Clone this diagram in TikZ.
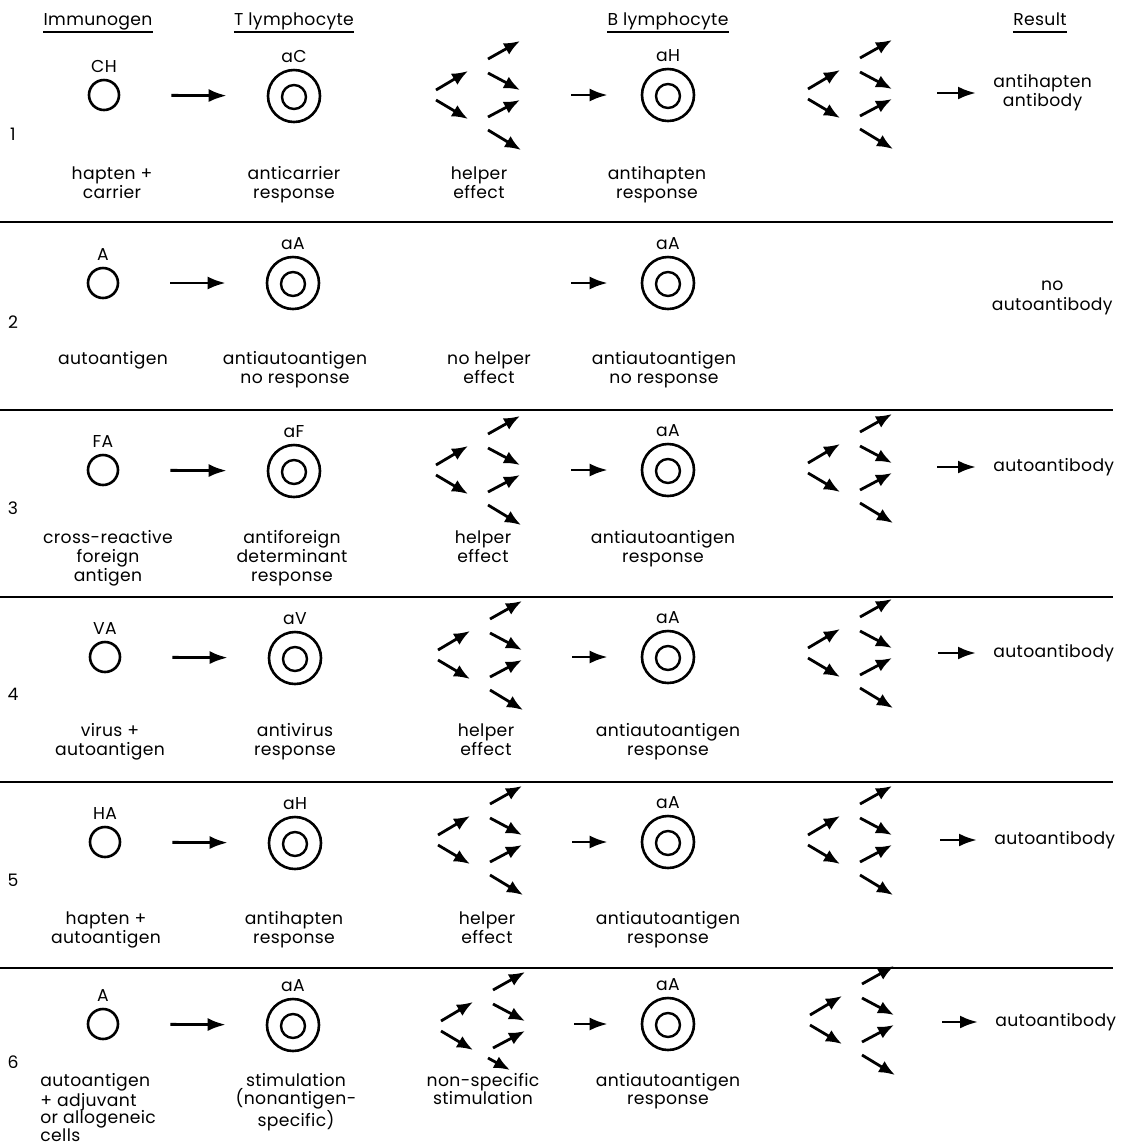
\documentclass[tikz,border=0pt]{standalone}
\usepackage{fontspec}
\setmainfont{Poppins}[LetterSpace=2]
\usetikzlibrary{arrows.meta,positioning}

\tikzset{
  antigen/.style={circle, draw, line width=1.3pt, minimum size=15pt, inner sep=0pt},
  cell/.style={circle, draw, line width=1.3pt, minimum size=26pt, inner sep=0pt,
    path picture={\draw[line width=1.2pt] ([yshift=-0.5pt]path picture bounding box.center) circle (6pt);}},
  tag/.style={label distance=-0.5pt},
  txt/.style={anchor=north, align=center, inner sep=0pt},
  res/.style={anchor=west, align=center, inner sep=0pt},
  head/.style={anchor=base, inner xsep=0pt, inner ysep=1pt, text depth=2.5pt},
  rule/.style={line width=1pt},
  sep/.style={line width=0.9pt},
  feed/.style={line width=1.4pt, -{Latex[length=9pt,width=6.5pt]}},
  spark/.style={line width=1.4pt, -{Latex[length=8pt,width=6.5pt]}},
  pics/fan/.style={code={
    \draw[spark] (-42,-5) -- (-10,-24);
    \draw[spark] (-42,5) -- (-10,24);
    \draw[spark] (10,-36) -- (42,-54);
    \draw[spark] (10,-22) -- (42,-5);
    \draw[spark] (10,22) -- (42,5);
    \draw[spark] #1;
  }},
  pics/fan/.default={(10,35) -- (43,55)}
}

\begin{document}
\begin{tikzpicture}[x=0.5pt, y=-0.5pt, font=\fontsize{8.6}{9.6}\selectfont]
  \useasboundingbox (0,0) rectangle (1130,1148);

  % column headings
  \node[head] (hImm) at (98,25) {Immunogen};
  \node[head] (hT) at (294,25) {T lymphocyte};
  \node[head] (hB) at (668,25) {B lymphocyte};
  \node[head] (hRes) at (1040,25) {Result};
  \foreach \h in {hImm,hT,hB,hRes}
    \draw[rule] (\h.south west) -- (\h.south east);

  % row rules
  \foreach \y in {222,410,597,782,968}
    \draw[sep] (0,\y) -- (1113,\y);

  % row 1: hapten + carrier
  \node (num1) at (13,134) {1};
  \node[antigen, label={[tag]above:CH}] (imm1) at (104,95) {};
  \node[cell, label={[tag]above:aC}] (tc1) at (294,96) {};
  \pic at (478,95) {fan};
  \coordinate (s1) at (571,95);
  \node[cell, label={[tag]above:aH}] (bc1) at (668,95) {};
  \pic at (850,94) {fan};
  \coordinate (e1) at (937,93);
  \node[res] (res1) at (993,93) {antihapten\\antibody};
  \draw[feed, shorten <=25.5pt, shorten >=20pt] (imm1) -- (tc1);
  \draw[feed, shorten >=16.5pt] (s1) -- (bc1);
  \draw[feed, shorten >=8.5pt] (e1) -- (res1);
  \node[txt] (it1) at (112,166) {hapten +\\carrier};
  \node[txt] (tt1) at (294,166) {anticarrier\\response};
  \node[txt] (ht1) at (479,166) {helper\\effect};
  \node[txt] (bt1) at (657,166) {antihapten\\response};

  % row 2: autoantigen
  \node (num2) at (13,322) {2};
  \node[antigen, label={[tag]above:A}] (imm2) at (103,283) {};
  \node[cell, label={[tag]above:aA}] (tc2) at (293,283) {};
  \coordinate (s2) at (571,283);
  \node[cell, label={[tag]above:aA}] (bc2) at (668,283) {};
  \node[anchor=east, align=center, inner sep=0pt] (res2) at (1113,298) {no\\autoantibody};
  \draw[feed, shorten <=25.5pt, shorten >=20pt] (imm2) -- (tc2);
  \draw[feed, shorten >=16.5pt] (s2) -- (bc2);
  \node[txt] (it2) at (113,351) {autoantigen};
  \node[txt] (tt2) at (295,351) {antiautoantigen\\no response};
  \node[txt] (ht2) at (489,351) {no helper\\effect};
  \node[txt] (bt2) at (664,351) {antiautoantigen\\no response};

  % row 3: cross-reactive foreign antigen
  \node (num3) at (13,508) {3};
  \node[antigen, label={[tag]above:FA}] (imm3) at (103,470) {};
  \node[cell, label={[tag]above:aF}] (tc3) at (294,471) {};
  \pic at (478,470) {fan};
  \coordinate (s3) at (571,470);
  \node[cell, label={[tag]above:aA}] (bc3) at (668,470) {};
  \pic at (850,468) {fan};
  \coordinate (e3) at (937,467);
  \node[res] (res3) at (993,467) {autoantibody};
  \draw[feed, shorten <=25.5pt, shorten >=20pt] (imm3) -- (tc3);
  \draw[feed, shorten >=16.5pt] (s3) -- (bc3);
  \draw[feed, shorten >=8.5pt] (e3) -- (res3);
  \node[txt] (it3) at (108,530) {cross-reactive\\foreign\\antigen};
  \node[txt] (tt3) at (292,530) {antiforeign\\determinant\\response};
  \node[txt] (ht3) at (483,530) {helper\\effect};
  \node[txt] (bt3) at (663,530) {antiautoantigen\\response};

  % row 4: virus + autoantigen
  \node (num4) at (13,694) {4};
  \node[antigen, label={[tag]above:VA}] (imm4) at (105,657) {};
  \node[cell, label={[tag]above:aV}] (tc4) at (295,658) {};
  \pic at (480,655) {fan};
  \coordinate (s4) at (572,657);
  \node[cell, label={[tag]above:aA}] (bc4) at (668,657) {};
  \pic at (850,653) {fan};
  \coordinate (e4) at (938,653);
  \node[res] (res4) at (993,653) {autoantibody};
  \draw[feed, shorten <=25.5pt, shorten >=20pt] (imm4) -- (tc4);
  \draw[feed, shorten >=16.5pt] (s4) -- (bc4);
  \draw[feed, shorten >=8.5pt] (e4) -- (res4);
  \node[txt] (it4) at (110,723) {virus +\\autoantigen};
  \node[txt] (tt4) at (295,723) {antivirus\\response};
  \node[txt] (ht4) at (486,723) {helper\\effect};
  \node[txt] (bt4) at (668,723) {antiautoantigen\\response};

  % row 5: hapten + autoantigen
  \node (num5) at (13,880) {5};
  \node[antigen, label={[tag]above:HA}] (imm5) at (105,842) {};
  \node[cell, label={[tag]above:aH}] (tc5) at (295,843) {};
  \pic at (480,840) {fan};
  \coordinate (s5) at (572,842);
  \node[cell, label={[tag]above:aA}] (bc5) at (668,842) {};
  \pic at (850,840) {fan};
  \coordinate (e5) at (940,840);
  \node[res] (res5) at (994,840) {autoantibody};
  \draw[feed, shorten <=25.5pt, shorten >=20pt] (imm5) -- (tc5);
  \draw[feed, shorten >=16.5pt] (s5) -- (bc5);
  \draw[feed, shorten >=8.5pt] (e5) -- (res5);
  \node[txt] (it5) at (106,911) {hapten +\\autoantigen};
  \node[txt] (tt5) at (294,911) {antihapten\\response};
  \node[txt] (ht5) at (487,911) {helper\\effect};
  \node[txt] (bt5) at (668,911) {antiautoantigen\\response};

  % row 6: autoantigen + adjuvant
  \node (num6) at (13,1062) {6};
  \node[antigen, label={[tag]above:A}] (imm6) at (103,1024) {};
  \node[cell, label={[tag]above:aA}] (tc6) at (293,1025) {};
  \pic at (483,1026) {fan={(5,32) -- (27,44)}};
  \coordinate (s6) at (574,1024);
  \node[cell, label={[tag]above:aA}] (bc6) at (668,1024) {};
  \pic at (852,1020) {fan};
  \coordinate (e6) at (942,1022);
  \node[res] (res6) at (995,1022) {autoantibody};
  \draw[feed, shorten <=25.5pt, shorten >=20pt] (imm6) -- (tc6);
  \draw[feed, shorten >=16.5pt] (s6) -- (bc6);
  \draw[feed, shorten >=8.5pt] (e6) -- (res6);
  \begin{scope}[font=\fontsize{8.6}{8.8}\selectfont]
    \node[txt, anchor=north west, align=left] (it6) at (40,1073) {autoantigen\\+ adjuvant\\or allogeneic\\cells};
    \node[txt] (tt6) at (296,1073) {stimulation\\(nonantigen-\\specific)};
    \node[txt] (ht6) at (483,1073) {non-specific\\stimulation};
    \node[txt] (bt6) at (668,1073) {antiautoantigen\\response};
  \end{scope}
\end{tikzpicture}
\end{document}
